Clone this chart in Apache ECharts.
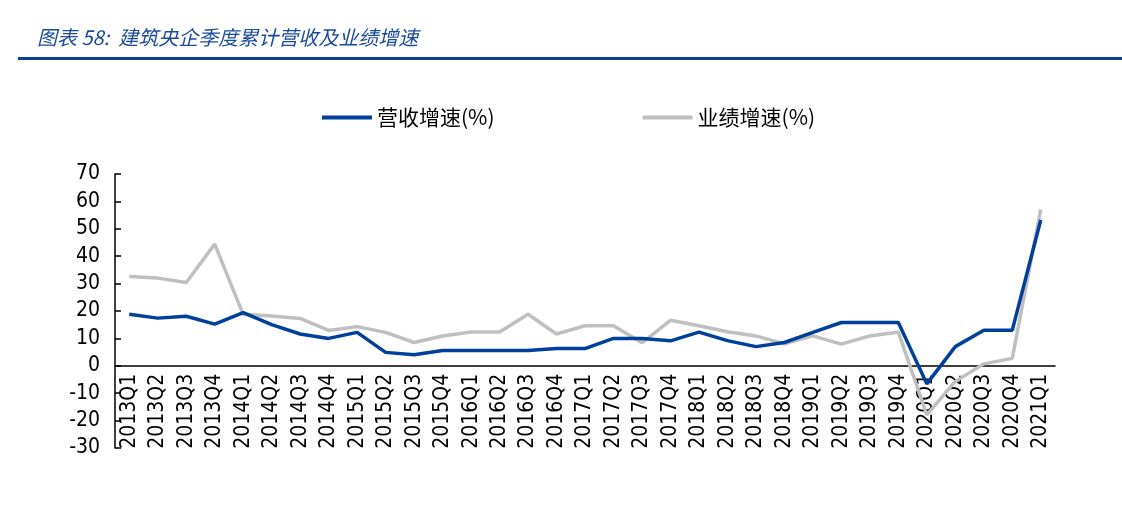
<!DOCTYPE html>
<html>
<head>
<meta charset="utf-8">
<script src="https://cdn.jsdelivr.net/npm/echarts@6/dist/echarts.min.js"></script>
<style>
html,body{margin:0;padding:0;background:#fff;}
#c{width:1122px;height:513px;}
</style>
</head>
<body>
<div id="c"></div>
<script>
const titleText = '图表 58:  建筑央企季度累计营收及业绩增速';
const categories = ['2013Q1','2013Q2','2013Q3','2013Q4','2014Q1','2014Q2','2014Q3','2014Q4','2015Q1','2015Q2','2015Q3','2015Q4','2016Q1','2016Q2','2016Q3','2016Q4','2017Q1','2017Q2','2017Q3','2017Q4','2018Q1','2018Q2','2018Q3','2018Q4','2019Q1','2019Q2','2019Q3','2019Q4','2020Q1','2020Q2','2020Q3','2020Q4','2021Q1'];
const revenueGrowth = [18.8,17.4,18.1,15.2,19.4,15.0,11.6,10.0,12.2,4.9,4.0,5.6,5.6,5.6,5.6,6.3,6.3,10.0,10.0,9.1,12.3,9.2,7.0,8.5,12.2,15.8,15.8,15.8,-6.6,7.0,13.0,13.0,53.2];
const profitGrowth = [32.6,32.0,30.4,44.4,18.8,18.2,17.3,12.9,14.3,12.2,8.5,10.9,12.3,12.3,18.8,11.6,14.6,14.6,8.4,16.6,14.6,12.4,10.9,8.0,10.9,7.9,10.9,12.3,-17.9,-5.7,0.7,2.7,57.1];
const seriesNames = ['营收增速(%)','业绩增速(%)'];
const yMin = -30, yMax = 70, yStep = 10;

const gridTop = 174, gridBottom = 65, H = 513;
const plotH = H - gridTop - gridBottom;
const zeroOffset = -plotH * (0 - yMin) / (yMax - yMin);

const chart = echarts.init(document.getElementById('c'));
const numFont = '"DejaVu Sans Condensed", "DejaVu Sans", sans-serif';
chart.setOption({
  animation: false,
  backgroundColor: '#fff',
  title: {
    text: titleText,
    left: 32, top: 22,
    textStyle: {fontSize: 20, fontStyle: 'italic', fontWeight: 'normal', color: '#1b4a9a', fontFamily: '"Noto Sans CJK SC", sans-serif'}
  },
  graphic: [{
    type: 'rect', shape: {x: 18, y: 57, width: 1104, height: 3}, style: {fill: '#0a3f96'}
  }],
  legend: {
    left: 317, top: 102,
    itemGap: 148,
    itemWidth: 50, itemHeight: 4,
    icon: 'rect',
    textStyle: {fontSize: 21, color: '#000', fontFamily: '"Noto Sans CJK SC", sans-serif', padding: [0,0,0,0]},
    data: seriesNames
  },
  grid: {left: 115, right: 67, top: gridTop, bottom: gridBottom, containLabel: false, outerBoundsMode: 'none'},
  xAxis: {
    type: 'category',
    data: categories,
    boundaryGap: true,
    position: 'bottom',
    offset: zeroOffset,
    axisLine: {onZero: false, lineStyle: {color: '#000', width: 1.5}},
    axisTick: {inside: true, length: 6, interval: 0, lineStyle: {color: '#000', width: 1.5}},
    axisLabel: {rotate: 90, interval: 0, margin: 8, fontSize: 21, color: '#000', fontFamily: numFont},
    splitLine: {show: false}
  },
  yAxis: {
    type: 'value',
    min: yMin, max: yMax, interval: yStep,
    axisLine: {show: true, lineStyle: {color: '#000', width: 1.5}},
    axisTick: {show: true, inside: true, length: 6, lineStyle: {color: '#000', width: 1.5}},
    axisLabel: {fontSize: 21, color: '#000', margin: 15, padding: [5, 0, 0, 0], fontFamily: numFont},
    splitLine: {show: false}
  },
  series: [
    {name: seriesNames[0], type: 'line', data: revenueGrowth, symbol: 'none', lineStyle: {color: '#003f9a', width: 3.5}, itemStyle: {color: '#003f9a'}, z: 3},
    {name: seriesNames[1], type: 'line', data: profitGrowth, symbol: 'none', lineStyle: {color: '#bfbfbf', width: 3.5}, itemStyle: {color: '#bfbfbf'}, z: 2}
  ]
});
</script>
</body>
</html>
